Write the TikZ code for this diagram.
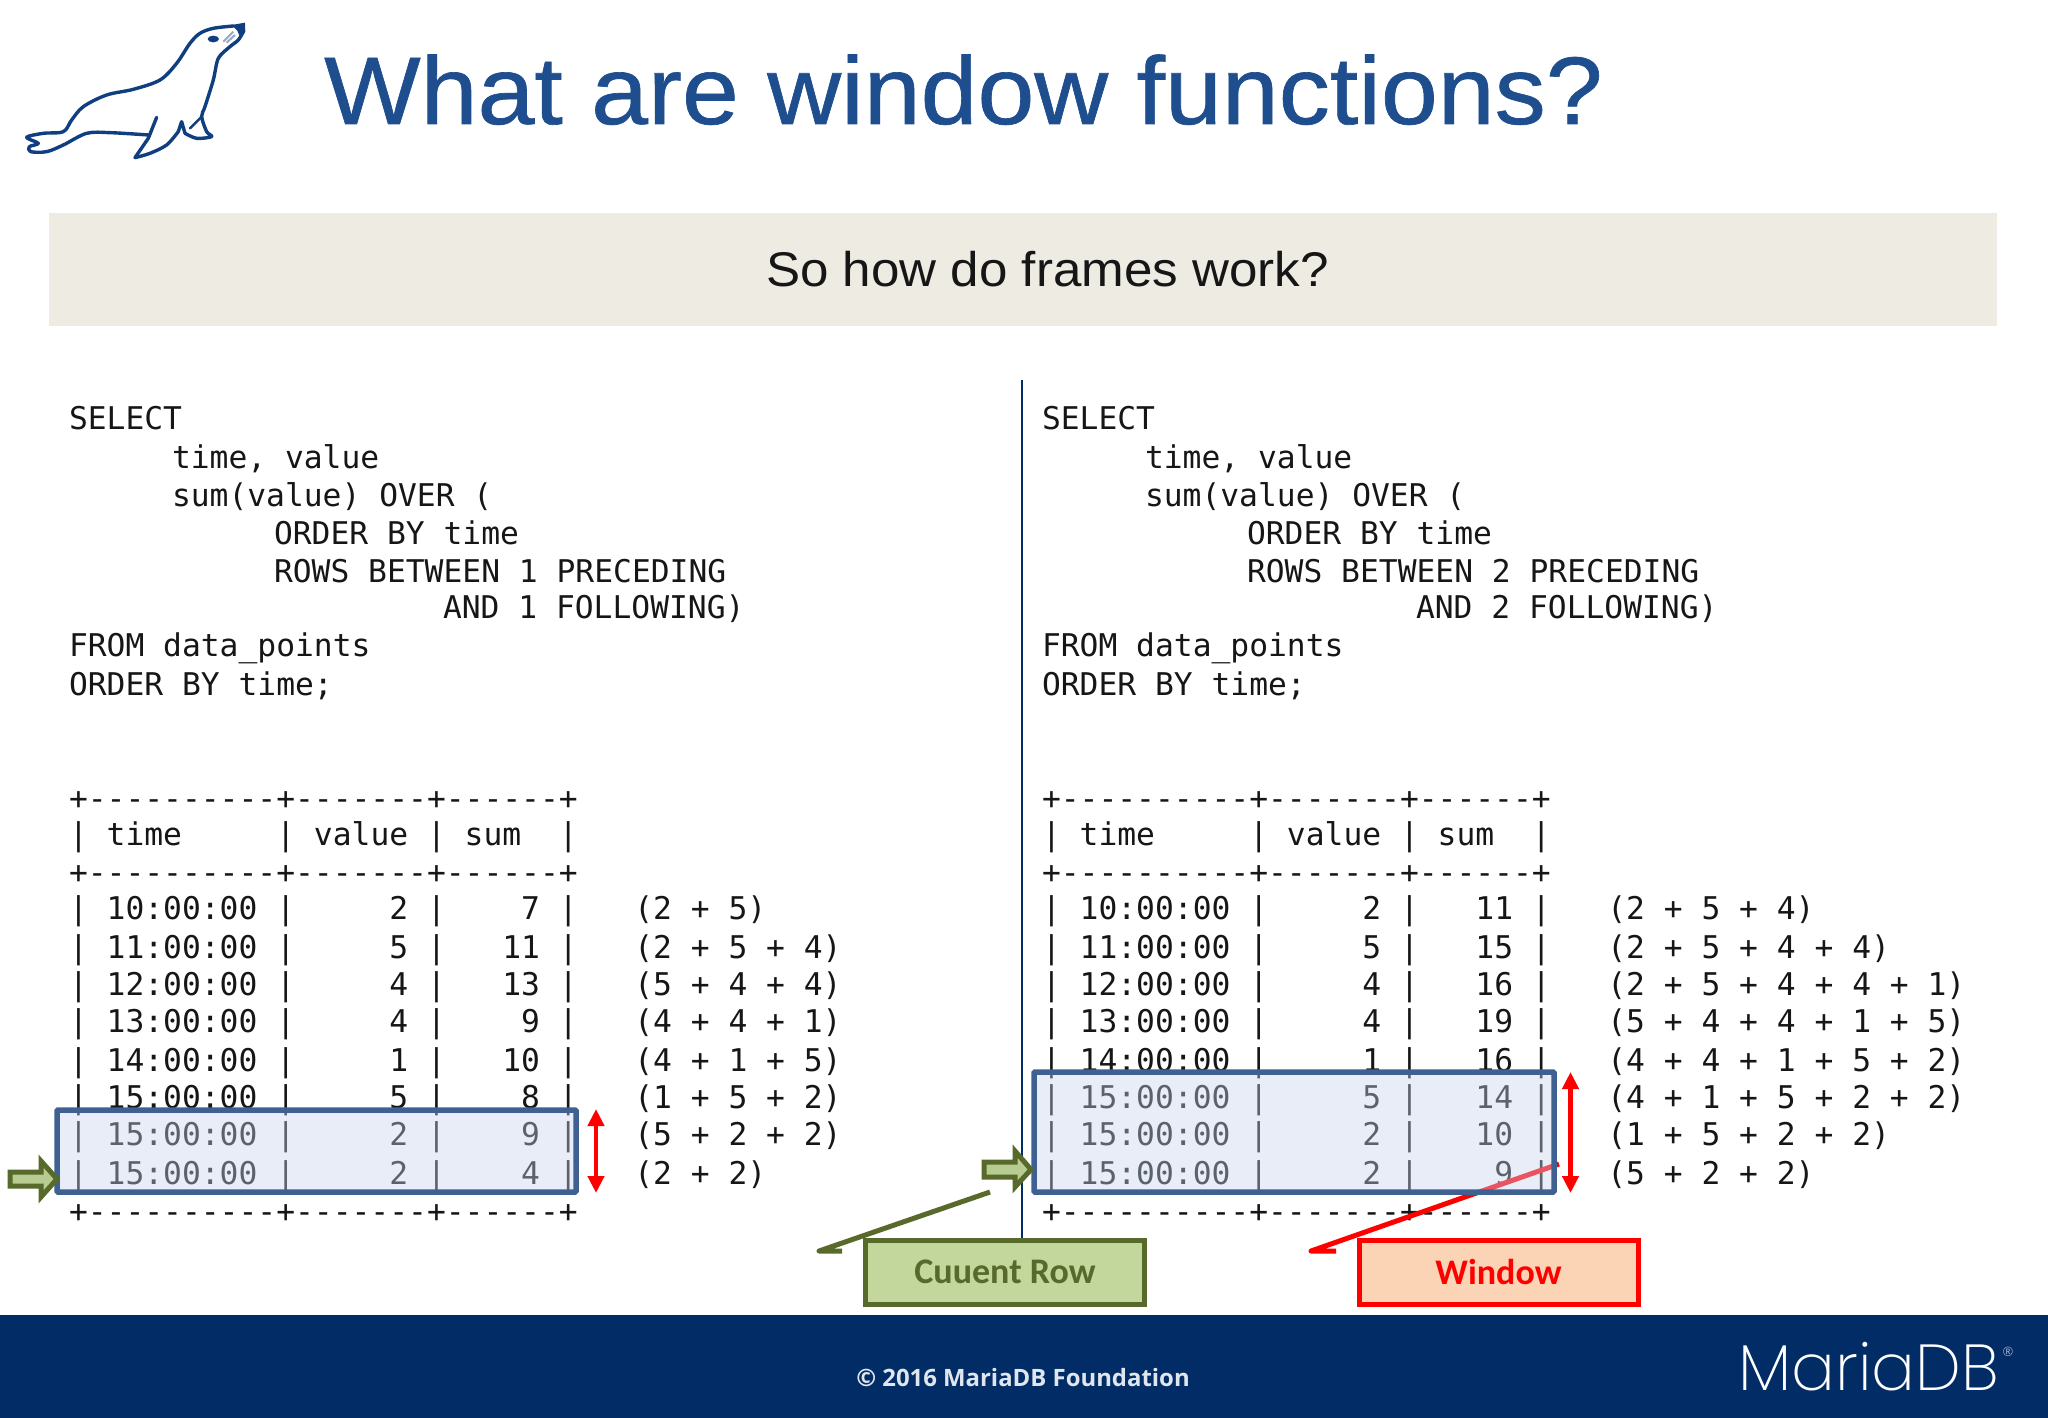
\documentclass[tikz,border=0pt]{standalone}
\usepackage{fontspec}
\setmainfont{Liberation Sans}
\setmonofont{DejaVu Sans Mono}
\newfontfamily\titlefont[FakeStretch=1.065,FakeBold=0.7]{Liberation Sans}
\newfontfamily\subtitlefont[FakeStretch=1.05]{Liberation Sans}
\newfontfamily\calloutfont{Carlito}
\newfontfamily\footfont{Open Sans}
\newfontfamily\logofont{Poppins ExtraLight}
\usetikzlibrary{arrows.meta}
\definecolor{titleblue}{HTML}{1F4E8F}
\definecolor{bandgrey}{HTML}{EEEBE3}
\definecolor{footblue}{HTML}{012C66}
\definecolor{framebar}{HTML}{3E6191}
\definecolor{framefill}{HTML}{C6D4EE}
\definecolor{olive}{HTML}{576A2B}
\definecolor{olivefill}{HTML}{C3D69B}
\definecolor{peach}{HTML}{FBD3B5}
\definecolor{sealblue}{HTML}{0F3F80}
\definecolor{inkblack}{HTML}{161616}
\tikzset{
  mono/.style={anchor=base west,inner sep=0pt,outer sep=0pt,text=inkblack,font=\ttfamily\fontsize{31.3}{31.3}\selectfont},
  framebox/.style={draw=framebar,line width=5.5pt,rounded corners=1pt},
  framearea/.style={fill=framefill,fill opacity=0.4},
  redarrow/.style={draw=red,line width=4.5pt,{Triangle[length=17pt,width=16pt]}-{Triangle[length=17pt,width=16pt]}},
  calloutgreen/.style={draw=olive,fill=olivefill,line width=5pt,text=olive,font=\calloutfont\bfseries\fontsize{36}{36}\selectfont,minimum width=279pt,minimum height=64pt,inner sep=0pt},
  calloutred/.style={draw=red,fill=peach,line width=5pt,text=red,font=\calloutfont\bfseries\fontsize{36}{36}\selectfont,minimum width=279pt,minimum height=64pt,inner sep=0pt},
  leadgreen/.style={draw=olive,line width=5pt,line join=round},
  leadred/.style={draw=red,line width=5pt,line join=round},
  blockarrow/.style={draw=olive,fill=olivefill!90!olive,line width=5pt,line join=miter},
  seal/.style={draw=sealblue,line width=3.4pt,line cap=round,line join=round}
}
\newcommand\codeline[4]{\node[mono] (#1) at (#2,#3) {#4};}
\newcommand\datarow[7]{\node[mono] (#1) at (#2,#3) {|~#4~|~~~~~#5~|~~~#6~|~~~#7};}
\newcommand\codeblock[6]{%
  \codeline{#1a}{#2}{429}{SELECT}
  \codeline{#1b}{#3}{468}{time, value}
  \codeline{#1c}{#3}{506}{sum(value) OVER (}
  \codeline{#1d}{#4}{544}{ORDER BY time}
  \codeline{#1e}{#4}{582}{ROWS BETWEEN #6 PRECEDING}
  \codeline{#1f}{#5}{618.5}{AND #6 FOLLOWING)}
  \codeline{#1g}{#2}{656}{FROM data\_points}
  \codeline{#1h}{#2}{695}{ORDER BY time;}
  \codeline{#1i}{#2}{809}{+----------+-------+------+}
  \codeline{#1j}{#2}{845}{|~time~~~~~|~value~|~sum~~|}
  \codeline{#1k}{#2}{883}{+----------+-------+------+}
  \codeline{#1l}{#2}{1222.5}{+----------+-------+------+}
}
\begin{document}
\begin{tikzpicture}[x=1pt,y=-1pt]
\useasboundingbox (0,0) rectangle (2048,1418);
\fill[white] (0,0) rectangle (2048,1418);

% seal logo
\begin{scope}[x=0.3333pt,y=-0.3333pt]
  \draw[seal] plot[smooth,tension=0.55] coordinates {(700,78) (640,85) (600,100) (570,130) (530,190) (480,240) (400,268) (320,285) (250,320) (215,360) (190,395) (130,400) (80,412) (115,430) (88,440) (92,455) (140,455) (190,435) (260,400) (330,398) (445,405)};
  \draw[seal] plot[smooth,tension=0.5] coordinates {(730,95) (715,120) (690,140) (655,175) (640,240) (615,320) (605,350) (620,395) (635,410) (590,415) (555,400)};
  \draw[seal] (555,400) -- (545,365) -- (535,395);
  \draw[seal] plot[smooth,tension=0.5] coordinates {(535,395) (500,435) (450,460) (405,473)};
  \draw[seal] (405,473) -- (445,415) -- (470,352);
  \draw[seal,line width=2.5pt] (605,350) -- (570,385);
  \fill[sealblue] (695,75) -- (735,68) -- (736,95) -- (722,115) -- (712,92) -- cycle;
  \fill[sealblue] (640,117) ellipse (17 and 10);
  \draw[sealblue!45,line width=2pt] (670,125) -- (700,95) (680,128) -- (705,105);
\end{scope}

% title and band
\node[anchor=base west,inner sep=0pt,text=titleblue,font=\titlefont\fontsize{96}{96}\selectfont] (title) at (324,124) {What are window functions?};
\fill[bandgrey] (49,213) rectangle (1997,325.5);
\node[anchor=base,inner sep=0pt,text=inkblack,font=\subtitlefont\fontsize{48.7}{48.7}\selectfont] (subtitle) at (1047.5,286) {So how do frames work?};

% divider
\coordinate (divA) at (1022,380);
\coordinate (divB) at (1022,1238);
\draw[draw=footblue,line width=1.5pt] (divA) -- (divB);

% left listing
\codeblock{L}{69}{172}{274}{443}{1}
\datarow{Lr1}{69}{919}{10:00:00}{2}{~7}{(2 + 5)}
\datarow{Lr2}{69}{958}{11:00:00}{5}{11}{(2 + 5 + 4)}
\datarow{Lr3}{69}{995}{12:00:00}{4}{13}{(5 + 4 + 4)}
\datarow{Lr4}{69}{1032}{13:00:00}{4}{~9}{(4 + 4 + 1)}
\datarow{Lr5}{69}{1071}{14:00:00}{1}{10}{(4 + 1 + 5)}
\datarow{Lr6}{69}{1108}{15:00:00}{5}{~8}{(1 + 5 + 2)}
\datarow{Lr7}{69}{1145}{15:00:00}{2}{~9}{(5 + 2 + 2)}
\datarow{Lr8}{69}{1184}{15:00:00}{2}{~4}{(2 + 2)}

% right listing
\codeblock{R}{1042}{1145}{1247}{1416}{2}
\datarow{Rr1}{1042}{919}{10:00:00}{2}{11}{(2 + 5 + 4)}
\datarow{Rr2}{1042}{958}{11:00:00}{5}{15}{(2 + 5 + 4 + 4)}
\datarow{Rr3}{1042}{995}{12:00:00}{4}{16}{(2 + 5 + 4 + 4 + 1)}
\datarow{Rr4}{1042}{1032}{13:00:00}{4}{19}{(5 + 4 + 4 + 1 + 5)}
\datarow{Rr5}{1042}{1071}{14:00:00}{1}{16}{(4 + 4 + 1 + 5 + 2)}
\datarow{Rr6}{1042}{1108}{15:00:00}{5}{14}{(4 + 1 + 5 + 2 + 2)}
\datarow{Rr7}{1042}{1145}{15:00:00}{2}{10}{(1 + 5 + 2 + 2)}
\datarow{Rr8}{1042}{1184}{15:00:00}{2}{~9}{(5 + 2 + 2)}

% window leader lies under the frame tint
\coordinate (winA) at (1559,1164);
\coordinate (winB) at (1311,1251);
\coordinate (winC) at (1336,1251);
\draw[leadred] (winA) -- (winB) -- (winC);

% frames
\fill[framearea] (57,1110) rectangle (576,1192);
\fill[framearea] (1034,1072) rectangle (1554,1192);
\draw[framebox] (57,1110) rectangle (576,1192);
\draw[framebox] (1034,1072) rectangle (1554,1192);

% red span arrows
\coordinate (spanLa) at (596,1109);
\coordinate (spanLb) at (596,1193);
\coordinate (spanRa) at (1570.5,1072);
\coordinate (spanRb) at (1570.5,1193);
\draw[redarrow] (spanLa) -- (spanLb);
\draw[redarrow] (spanRa) -- (spanRb);

% current-row markers
\draw[blockarrow] (10,1172) -- (41,1172) -- (41,1161) -- (57,1179) -- (41,1197) -- (41,1186) -- (10,1186) -- cycle;
\draw[blockarrow] (984,1162) -- (1015,1162) -- (1015,1151) -- (1031,1169.5) -- (1015,1187) -- (1015,1177) -- (984,1177) -- cycle;

% callouts
\coordinate (curA) at (990,1192);
\coordinate (curB) at (819,1251);
\coordinate (curC) at (842,1251);
\draw[leadgreen] (curA) -- (curB) -- (curC);
\node[calloutgreen] (current) at (1005,1272) {\raisebox{-1.5pt}{Cuuent Row}};
\node[calloutred] (window) at (1498.5,1272) {\raisebox{-1.5pt}{Window}};

% footer
\fill[footblue] (0,1315) rectangle (2048,1418);
\node[anchor=base,inner sep=0pt,text=white!88!footblue,font=\footfont\bfseries\fontsize{23.9}{23.9}\selectfont] (copyright) at (1023,1386) {© 2016 MariaDB Foundation};
\node[anchor=base west,inner sep=0pt,text=white,font=\logofont\fontsize{65}{65}\selectfont] (logo) at (1738,1390) {MariaDB};
\node[anchor=center,inner sep=0pt,text=white!60!footblue,font=\footfont\fontsize{13}{13}\selectfont] (registered) at (2008,1352) {®};
\end{tikzpicture}
\end{document}
